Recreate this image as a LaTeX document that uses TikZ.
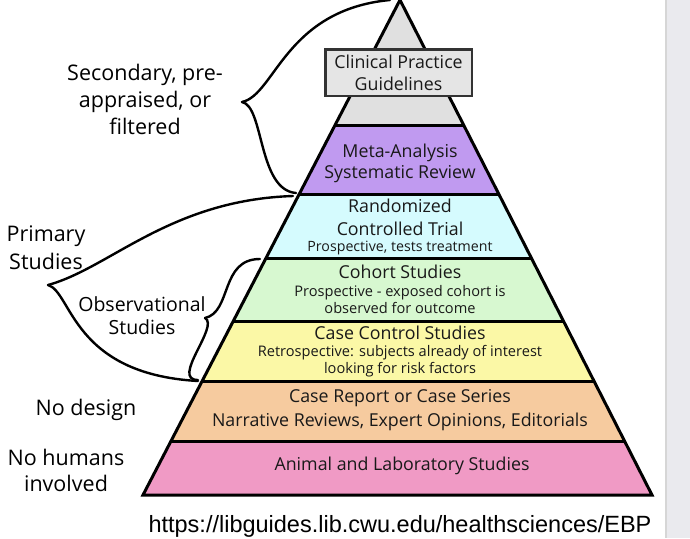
\documentclass[tikz,border=0pt]{standalone}
\usepackage{fontspec}
\setmainfont{Open Sans}
\newfontfamily\urlfont{Liberation Sans}
\usepackage{tikz}
\usetikzlibrary{positioning}
\definecolor{capgray}{HTML}{E0E0E0}
\definecolor{metapurple}{HTML}{C09AF0}
\definecolor{rctcyan}{HTML}{D5FBFE}
\definecolor{cohortgreen}{HTML}{D7F8D0}
\definecolor{caseyellow}{HTML}{FBF8A6}
\definecolor{reportorange}{HTML}{F6CB9F}
\definecolor{animalpink}{HTML}{F09AC5}
\definecolor{sidebar}{HTML}{EAEAEE}

\begin{document}
\begin{tikzpicture}[x=1pt, y=-1pt,
  tier/.style={font=\fontsize{17.8}{22}\selectfont, align=center, inner sep=0pt, text=black!90},
  tiernote/.style={font=\fontsize{14.6}{17}\selectfont, align=center, inner sep=0pt, text=black!90},
  side/.style={font=\fontsize{21.5}{27}\selectfont, align=center, inner sep=0pt},
  brace/.style={line width=2.4pt, line cap=round},
  rule/.style={line width=3pt}
]
\useasboundingbox (0,0) rectangle (690,538);
\fill[white] (0,0) rectangle (690,538);
\fill[sidebar] (665,0) rectangle (690,538);
\fill[black!16] (665,0) rectangle (667,538);

% pyramid
\coordinate (apex) at (400,0);
\coordinate (baseL) at (143,495);
\coordinate (baseR) at (652,495);
\begin{scope}
  \clip (apex) -- (baseL) -- (baseR) -- cycle;
  \foreach \ytop/\ybot/\col in {0/125/capgray, 125/194/metapurple, 194/258/rctcyan,
      258/321/cohortgreen, 321/381/caseyellow, 381/441/reportorange, 441/495/animalpink}
    \fill[\col] (140,\ytop) rectangle (660,\ybot);
  \foreach \y in {125,194,258,321,381,441}
    \draw[rule] (140,\y) -- (660,\y);
\end{scope}
\draw[rule] (apex) -- (baseL) -- (baseR) -- cycle;

% tiers
\node[tier, draw=black!80, line width=2.5pt, fill=capgray!85!white,
  minimum width=146.5, minimum height=46.5] (cpg) at (398.5,72.5) {Clinical Practice\\Guidelines};
\node[tier, font=\fontsize{17.8}{21}\selectfont] (meta) at (400,163) {Meta-Analysis\\Systematic Review};
\node[tier, font=\fontsize{17.8}{23}\selectfont] (rct) at (400,217) {Randomized\\Controlled Trial};
\node[tiernote, font=\fontsize{14.2}{17}\selectfont] (rctnote) at (400,248) {Prospective, tests treatment};
\node[tier] (cohort) at (400,272) {Cohort Studies};
\node[tiernote] (cohortnote) at (400,300) {Prospective - exposed cohort is\\observed for outcome};
\node[tier] (casectrl) at (400,333) {Case Control Studies};
\node[tiernote] (casectrlnote) at (400,361) {Retrospective: subjects already of interest\\looking for risk factors};
\node[tier, font=\fontsize{17.8}{24}\selectfont] (report) at (400,410) {Case Report or Case Series\\Narrative Reviews, Expert Opinions, Editorials};
\node[tier] (animal) at (402,466) {Animal and Laboratory Studies};

% side labels
\node[side] (secondary) at (145,99) {Secondary, pre-\\appraised, or\\filtered};
\node[side, font=\fontsize{21.5}{28}\selectfont] (primary) at (46,248) {Primary\\Studies};
\node[side, font=\fontsize{19.5}{23}\selectfont] (observational) at (142,316) {Observational\\Studies};
\node[side] (nodesign) at (86,410) {No design};
\node[side, font=\fontsize{21.5}{26}\selectfont] (nohumans) at (66,470) {No humans\\involved};

% braces
\coordinate (secTop) at (390,0);
\coordinate (secTip) at (242,102);
\coordinate (secBot) at (296,193);
\draw[brace] (secTip) .. controls (275,95) and (285,10) .. (secTop);
\draw[brace] (secTip) .. controls (264,106) and (258,190) .. (secBot);

\coordinate (priTop) at (293,196);
\coordinate (priTip) at (48,285);
\coordinate (priBot) at (198,381);
\draw[brace] (priTip) .. controls (110,268) and (170,200) .. (priTop);
\draw[brace] (priTip) .. controls (72,292) and (72,374) .. (priBot);

\coordinate (obsTop) at (260,259);
\coordinate (obsTip) at (205,318);
\coordinate (obsBot) at (198,380);
\draw[brace] (obsTip) .. controls (232,312) and (220,259) .. (obsTop);
\draw[brace] (obsTip) .. controls (220,326) and (170,380) .. (obsBot);

% source
\node[font=\urlfont\fontsize{23.5}{28}\selectfont, inner sep=0pt] (source) at (400,526)
  {https://libguides.lib.cwu.edu/healthsciences/EBP};
\end{tikzpicture}
\end{document}
